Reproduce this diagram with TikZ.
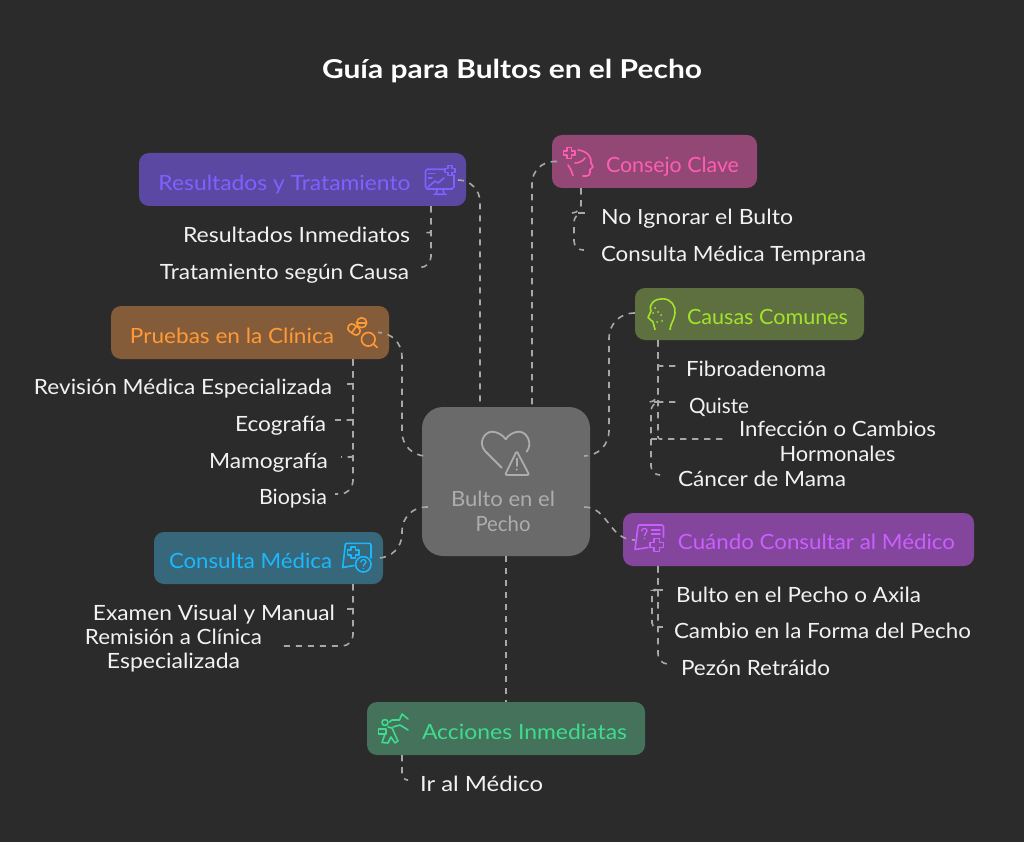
\documentclass[tikz,border=0pt]{standalone}
\usepackage{graphicx}
\usepackage{fontspec}
\setmainfont{Lato}
\usetikzlibrary{calc}
\definecolor{bg}{HTML}{2B2B2B}
\definecolor{lin}{HTML}{A8A8A8}
\definecolor{kidc}{HTML}{F2F2F2}
\definecolor{hubf}{HTML}{6A6A6A}
\definecolor{hubt}{HTML}{ADADAD}
\definecolor{resf}{HTML}{5A48A3}\definecolor{rest}{HTML}{7D62FF}
\definecolor{pruf}{HTML}{855C3A}\definecolor{prut}{HTML}{FF9A36}
\definecolor{cmf}{HTML}{37677A}\definecolor{cmt}{HTML}{1CB8FF}
\definecolor{conf}{HTML}{924774}\definecolor{cont}{HTML}{FF5DB4}
\definecolor{cauf}{HTML}{5F7040}\definecolor{caut}{HTML}{A4E22C}
\definecolor{cuaf}{HTML}{84459C}\definecolor{cuat}{HTML}{C95FFF}
\definecolor{accf}{HTML}{44725A}\definecolor{acct}{HTML}{3FDC8F}
\newcommand\fitw[2]{\resizebox{#1pt}{\height}{#2}}
\newcommand\kidlink[3]{\draw[conn,rounded corners=#1] (#2) -- (#2 |- #3) -- (#3);}
\tikzset{
  x=1pt,y=-1pt,
  panel/.style={rectangle,rounded corners=10pt,draw=none,inner sep=0pt},
  txt/.style={inner sep=0pt,text height=18pt,text depth=3pt,font=\fontsize{21}{24.5}\selectfont},
  kid/.style={txt,text=kidc},
  kidtwo/.style={inner sep=0pt,align=center,text=kidc,font=\fontsize{21}{24.5}\selectfont},
  conn/.style={draw=lin,line width=1.6pt,dash pattern=on 6.2pt off 5.8pt},
  ico/.style={line width=1.6pt,line cap=round,line join=round},
}
\begin{document}
\begin{tikzpicture}
\useasboundingbox (0,0) rectangle (1024,842);
\fill[bg] (0,0) rectangle (1024,842);
% panels
\node[panel,fill=hubf,rounded corners=21pt,minimum width=168pt,minimum height=149pt] (hub) at (506,481.5) {};
\node[panel,fill=resf,minimum width=327pt,minimum height=53pt] (res) at (302.5,179.5) {};
\node[panel,fill=pruf,minimum width=278pt,minimum height=53pt] (pru) at (250,332.5) {};
\node[panel,fill=cmf,minimum width=229pt,minimum height=52pt] (cm) at (268.5,558) {};
\node[panel,fill=conf,minimum width=205pt,minimum height=53pt] (con) at (654.5,161.5) {};
\node[panel,fill=cauf,minimum width=229pt,minimum height=52pt] (cau) at (749.5,314) {};
\node[panel,fill=cuaf,minimum width=351pt,minimum height=53pt] (cua) at (798.5,539.5) {};
\node[panel,fill=accf,minimum width=278pt,minimum height=53pt] (acc) at (506,728.5) {};
% labels
\node[inner sep=0pt,text=white,text height=24pt,text depth=4pt,font=\fontsize{26}{30}\selectfont\bfseries] (title) at (512,69) {\fitw{380}{Guía para Bultos en el Pecho}};
\node[inner sep=0pt,align=center,text=hubt,font=\fontsize{21}{24.5}\selectfont] (hubl) at (503,511.5) {\fitw{104}{Bulto en el}\\\fitw{55}{Pecho}};
\node[txt,text=rest] (resl) at (284.5,183) {\fitw{252}{Resultados y Tratamiento}};
\node[txt,text=prut] (prul) at (232,336) {\fitw{204}{Pruebas en la Clínica}};
\node[txt,text=cmt] (cml) at (250.5,561) {\fitw{163}{Consulta Médica}};
\node[txt,text=cont] (conl) at (672.5,165) {\fitw{133}{Consejo Clave}};
\node[txt,text=caut] (caul) at (767.5,317) {\fitw{161}{Causas Comunes}};
\node[txt,text=cuat] (cual) at (816.5,542) {\fitw{277}{Cuándo Consultar al Médico}};
\node[txt,text=acct] (accl) at (524.5,732) {\fitw{205}{Acciones Inmediatas}};
\node[kid] (r1) at (296.5,235) {\fitw{227}{Resultados Inmediatos}};
\node[kid] (r2) at (284.5,272) {\fitw{249}{Tratamiento según Causa}};
\node[kid] (p1) at (183,387) {\fitw{298}{Revisión Médica Especializada}};
\node[kid] (p2) at (280.5,424) {\fitw{91}{Ecografía}};
\node[kid] (p3) at (268.5,461) {\fitw{119}{Mamografía}};
\node[kid] (p4) at (293,497) {\fitw{68}{Biopsia}};
\node[kid] (m1) at (214,613) {\fitw{242}{Examen Visual y Manual}};
\node[kidtwo] (m2) at (173.5,650.5) {\fitw{177}{Remisión a Clínica}\\\fitw{133}{Especializada}};
\node[kid] (c1) at (697,217) {\fitw{192}{No Ignorar el Bulto}};
\node[kid] (c2) at (733.5,254) {\fitw{265}{Consulta Médica Temprana}};
\node[kid] (a1) at (756,369) {\fitw{140}{Fibroadenoma}};
\node[kid] (a2) at (719,406) {\fitw{60}{Quiste}};
\node[kidtwo] (a3) at (837.5,441.5) {\fitw{197}{Infección o Cambios}\\\fitw{116}{Hormonales}};
\node[kid] (a4) at (762,479) {\fitw{168}{Cáncer de Mama}};
\node[kid] (u1) at (798.5,595) {\fitw{245}{Bulto en el Pecho o Axila}};
\node[kid] (u2) at (822.5,631) {\fitw{297}{Cambio en la Forma del Pecho}};
\node[kid] (u3) at (755.5,668) {\fitw{149}{Pezón Retráido}};
\node[kid] (i1) at (481.5,784) {\fitw{123}{Ir al Médico}};
% hub connectors
\coordinate (chanL) at ([shift={(-104,0)}]hub.center);
\coordinate (chanR) at ([shift={(103,0)}]hub.center);
\coordinate (hubNL) at ([shift={(-26,0)}]hub.north);
\coordinate (hubNR) at ([shift={(26,0)}]hub.north);
\coordinate (hubWu) at ([shift={(6,-25.5)}]hub.west);
\coordinate (hubWd) at ([shift={(6,25.5)}]hub.west);
\coordinate (hubEu) at ([shift={(-6,-25.5)}]hub.east);
\coordinate (hubEd) at ([shift={(-6,25.5)}]hub.east);
\coordinate (resE) at ([shift={(-8,0.5)}]res.east);
\coordinate (pruE) at ([shift={(-9,0)}]pru.east);
\coordinate (cmE) at ([shift={(-3,0)}]cm.east);
\coordinate (conW) at ([shift={(5,0)}]con.west);
\coordinate (cauW) at ([shift={(0,-1)}]cau.west);
\coordinate (cuaW) at ([shift={(12,0.5)}]cua.west);
\draw[conn,rounded corners=22pt] (resE) -- (resE -| hubNL) -- (hubNL);
\draw[conn,rounded corners=22pt] (conW) -- (conW -| hubNR) -- (hubNR);
\draw[conn,rounded corners=24pt] (pruE) -- (pruE -| chanL) -- (hubWu -| chanL) -- (hubWu);
\draw[conn,rounded corners=24pt] (hubWd) -- (hubWd -| chanL) -- (cmE -| chanL) -- (cmE);
\draw[conn,rounded corners=25pt] (cauW) -- (cauW -| chanR) -- (hubEu -| chanR) -- (hubEu);
\draw[conn] (hubEd) .. controls +(24,0) and +(-26,0) .. (cuaW);
\draw[conn] (hub.south) -- (acc.north);
% branch connectors
\coordinate (resB) at ([shift={(128.5,0)}]res.south);
\coordinate (r1e) at ([shift={(15,-2.3)}]r1.east);
\coordinate (r2e) at ([shift={(11,-4.5)}]r2.east);
\kidlink{2pt}{resB}{r1e}
\kidlink{11pt}{resB}{r2e}
\coordinate (pruB) at ([shift={(103,0)}]pru.south);
\coordinate (p1e) at ([shift={(15,-3)}]p1.east);
\coordinate (p2e) at ([shift={(9,-4)}]p2.east);
\coordinate (p3e) at ([shift={(13,-4)}]p3.east);
\coordinate (p4e) at ([shift={(8,-3)}]p4.east);
\kidlink{2pt}{pruB}{p1e}
\kidlink{2pt}{pruB}{p2e}
\kidlink{2pt}{pruB}{p3e}
\kidlink{13pt}{pruB}{p4e}
\coordinate (cmB) at ([shift={(84.5,0)}]cm.south);
\coordinate (m1e) at ([shift={(12,-4)}]m1.east);
\coordinate (m2e) at ([shift={(19,-4.5)}]m2.east);
\kidlink{2pt}{cmB}{m1e}
\kidlink{11pt}{cmB}{m2e}
\coordinate (conB) at ([shift={(-73.5,0)}]con.south);
\coordinate (c1e) at ([shift={(-16,-4)}]c1.west);
\coordinate (c2e) at ([shift={(-17,-4)}]c2.west);
\coordinate (conO) at ([shift={(-7,0)}]conB);
\kidlink{2pt}{conB}{c1e}
\draw[conn,rounded corners=9pt] (conB) -- (conB |- c1e) -- (conO |- c1e) -- (conO |- c2e) -- (c2e);
\coordinate (cauB) at ([shift={(-91.5,0)}]cau.south);
\coordinate (cauO) at ([shift={(-7,0)}]cauB);
\coordinate (a1e) at ([shift={(-9,-3)}]a1.west);
\coordinate (a2e) at ([shift={(-12,-4)}]a2.west);
\coordinate (a3e) at ([shift={(-13,-2.5)}]a3.west);
\coordinate (a4e) at ([shift={(-18,-4)}]a4.west);
\kidlink{2pt}{cauB}{a1e}
\kidlink{2pt}{cauB}{a2e}
\kidlink{2pt}{cauB}{a3e}
\draw[conn,rounded corners=9pt] (cauB) -- (cauB |- a2e) -- (cauO |- a2e) -- (cauO |- a4e) -- (a4e);
\draw[conn] (cauO |- a3e) -- (cauB |- a3e);
\coordinate (cuaB) at ([shift={(-140.5,0)}]cua.south);
\coordinate (cuaO) at ([shift={(-6,0)}]cuaB);
\coordinate (u1e) at ([shift={(-13,-5)}]u1.west);
\coordinate (u2e) at ([shift={(-11,-4)}]u2.west);
\coordinate (u3e) at ([shift={(-13,-4)}]u3.west);
\kidlink{2pt}{cuaB}{u1e}
\kidlink{2pt}{cuaB}{u2e}
\kidlink{10pt}{cuaB}{u3e}
\draw[conn,rounded corners=4pt] (cuaB) -- (cuaB |- u1e) -- (cuaO |- u1e) -- (cuaO |- u2e) -- (u2e);
\coordinate (accB) at ([shift={(-104,0)}]acc.south);
\coordinate (i1e) at ([shift={(-13,-4)}]i1.west);
\kidlink{6pt}{accB}{i1e}
% icons
% hub
\draw[ico,hubt,line width=1.8pt] (501.7,467.7) -- (485,451) .. controls (478,443) and (484,432) .. (492,431.7) .. controls (497,431.7) and (503,435) .. (505.7,439.3) .. controls (508,435) and (514,431.7) .. (519,431.7) .. controls (527,432) and (533,443) .. (526.7,451.7);
\draw[ico,hubt,line width=1.8pt,rounded corners=2pt] (516.7,451) -- (505,475) -- (529.3,475) -- cycle;
\draw[ico,hubt,line width=1.8pt] (516.7,458.5) -- (516.7,466);
\fill[hubt] (516.7,469.5) circle (1.1);
% res
\begin{scope}[ico,rest]
\draw (444,169.3) -- (427,169.3) -- (425.5,171) -- (425.5,187) -- (427,189) -- (452,189) -- (454,187) -- (454,175);
\draw (437.5,189) -- (436,194) (443,189) -- (444,194) (434,194.3) -- (446,194.3);
\draw (428,187) -- (435,181) -- (438,183) -- (444,178);
\draw (428.5,173.5) -- (435,173.5) (428.5,178) -- (432,178);
\draw (448,165.5) -- (452,165.5) -- (452,168.5) -- (455,168.5) -- (455,172.5) -- (452,172.5) -- (452,175.5) -- (448,175.5) -- (448,172.5) -- (445,172.5) -- (445,168.5) -- (448,168.5) -- cycle;
\end{scope}
% pruebas
\begin{scope}[ico,prut]
\draw (361.7,322.7) circle (5);
\draw (357,322.7) -- (366.4,322.7);
\draw[rotate around={-35:(354,329.5)},rounded corners=3.5pt] (347.5,325.5) rectangle (360.5,333.5);
\draw[rotate around={-35:(354,329.5)}] (354,325.5) -- (354,333.5);
\draw (368.3,339.3) circle (6.8);
\draw (373.3,344) -- (377.3,347.5);
\end{scope}
% consulta medica
\begin{scope}[ico,cmt]
\draw (354,565.5) -- (342.7,567.5) -- (345.3,544.5) -- (346.5,543.3) -- (370,543.3) -- (371,545) -- (371,558);
\draw (351,546.7) -- (355.5,546.7) -- (355.5,550) -- (359,550) -- (359,554.7) -- (355.5,554.7) -- (355.5,558) -- (351,558) -- (351,554.7) -- (347.5,554.7) -- (347.5,550) -- (351,550) -- cycle;
\draw (363.3,564.3) circle (7.7);
\draw[line width=1.3pt] (360.8,562) .. controls (361,558.8) and (366.3,558.8) .. (366,562.2) .. controls (365.8,564) and (363.3,564) .. (363.3,566);
\fill (363.3,568.6) circle (0.8);
\end{scope}
% consejo
\begin{scope}[ico,cont]
\draw (567,147.5) -- (571.5,147.5) -- (571.5,151) -- (575,151) -- (575,155) -- (571.5,155) -- (571.5,158.5) -- (567,158.5) -- (567,155) -- (563.5,155) -- (563.5,151) -- (567,151) -- cycle;
\draw (578,150) .. controls (587,151) and (592,157) .. (591,163) -- (593,167) -- (590,169.5) .. controls (590.5,175) and (589,176.5) .. (583,176);
\draw (575,163) .. controls (579,163) and (583,161) .. (585,158);
\draw (568,165) -- (571,170) -- (573,175.5);
\end{scope}
% causas
\begin{scope}[ico,caut]
\draw (655,329.5) -- (653,322) -- (648,317.5) -- (651,311) .. controls (648,303) and (656,298.5) .. (663,298.8) .. controls (671,299) and (676,306) .. (675,313) .. controls (674.5,320) and (671,322) .. (670,329.5);
\fill (655,308) circle (1) (658,312) circle (1) (653,313) circle (1) (661,315) circle (1) (657,322) circle (1) (662,321) circle (1);
\end{scope}
% cuando
\begin{scope}[ico,cuat]
\draw (648,547.5) -- (635,549.5) -- (638,526.5) -- (639,525) -- (662,525) -- (663.5,526.5) -- (663.5,537);
\draw[line width=1.3pt] (641.5,531) .. controls (642,527.5) and (647,527.5) .. (647,531) .. controls (647,533) and (644.5,533) .. (644.5,535.5);
\fill (644.5,538.5) circle (0.8);
\draw (651.5,530) -- (660,530) (651.5,534) -- (660,534);
\draw (654,538.5) -- (659.5,538.5) -- (659.5,542.5) -- (663.5,542.5) -- (663.5,547.5) -- (659.5,547.5) -- (659.5,551.5) -- (654,551.5) -- (654,547.5) -- (650,547.5) -- (650,542.5) -- (654,542.5) -- cycle;
\end{scope}
% acciones
\begin{scope}[ico,acct]
\draw (385,722.5) circle (3);
\draw (378.5,729) rectangle (386,734);
\draw (388,727) -- (392,728) -- (398,741) -- (395,743) -- (391,737) -- (388,743) -- (382,742.5) -- (385,734);
\draw (389.5,722) -- (392,720) -- (399.5,720) -- (402,714) -- (408,719);
\draw (393,727) -- (400,725) -- (408,730);
\end{scope}
\end{tikzpicture}
\end{document}
